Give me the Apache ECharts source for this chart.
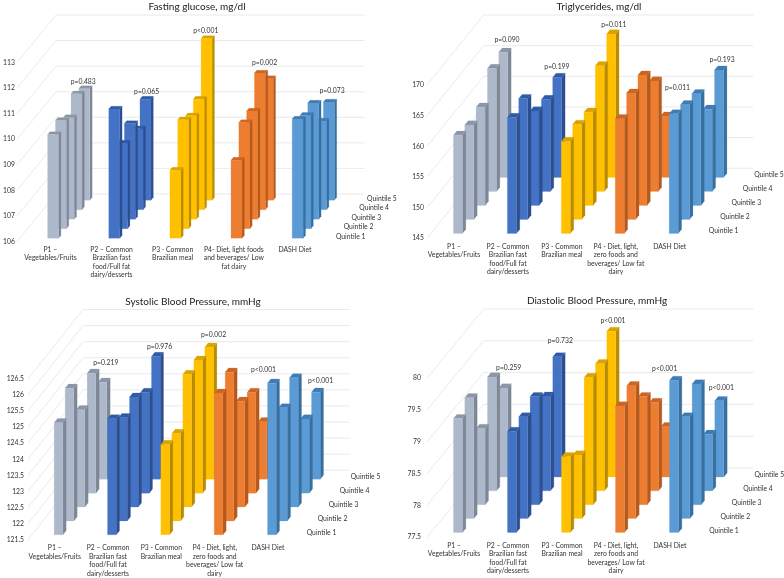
<!DOCTYPE html>
<html><head><meta charset="utf-8">
<style>html,body{margin:0;padding:0;background:#fff}#c{width:784px;height:578px}</style>
<script src="https://cdn.jsdelivr.net/npm/echarts@6/dist/echarts.min.js"></script>
</head><body><div id="c"></div>
<script>
// ---- data (rows: dietary pattern; columns: Quintile 1..5) ----
const quintiles = ['Quintile 1','Quintile 2','Quintile 3','Quintile 4','Quintile 5'];
const categoriesGlucose = ['P1 –\nVegetables/Fruits','P2 – Common\nBrazilian fast\nfood/Full fat\ndairy/desserts','P3 - Common\nBrazilian meal','P4- Diet, light foods\nand beverages/ Low\nfat dairy','DASH Diet'];
const categoriesOther = ['P1 –\nVegetables/Fruits','P2 – Common\nBrazilian fast\nfood/Full fat\ndairy/desserts','P3 - Common\nBrazilian meal','P4 - Diet, light,\nzero foods and\nbeverages/ Low fat\ndairy','DASH Diet'];
const glucose = [
 [110.05,110.23,109.97,110.53,110.36],
 [111.05,109.35,109.74,109.16,109.95],
 [108.66,110.26,110.04,110.32,112.32],
 [109.05,110.15,110.23,111.34,110.75],
 [110.66,110.43,110.54,109.46,109.84]];
const triglycerides = [
 [161.0,160.4,161.0,165.05,165.4],
 [163.9,164.7,160.4,160.0,161.3],
 [160.0,160.5,160.2,165.5,168.4],
 [163.7,165.6,166.25,163.0,155.0],
 [164.5,163.7,163.2,158.4,162.5]];
const systolic = [
 [124.99,125.63,124.53,125.23,124.52],
 [125.11,124.71,124.92,124.63,125.32],
 [124.31,124.22,125.63,125.64,125.61],
 [125.91,126.13,124.79,124.63,123.29],
 [126.22,125.02,125.52,123.81,124.21]];
const diastolic = [
 [79.29,79.40,78.70,79.29,78.90],
 [79.09,79.10,79.20,78.99,79.39],
 [78.69,78.50,79.50,79.50,79.79],
 [79.49,79.59,79.20,78.89,78.29],
 [79.89,79.10,79.40,78.39,78.70]];
const pGlucose = ['p=0.483','p=0.065','p<0.001','p=0.002','p=0.073'];
const pTriglycerides = ['p=0.090','p=0.199','p=0.011','p=0.011','p=0.193'];
const pSystolic = ['p=0.219','p=0.976','p=0.002','p<0.001','p<0.001'];
const pDiastolic = ['p=0.259','p=0.732','p<0.001','p<0.001','p<0.001'];

// ---- styling and layout ----
const faces = [
 {front:'#adb9ca',side:'#7d8796',top:'#8b97a8'},
 {front:'#4472c4',side:'#2c4f8f',top:'#2f5aa6'},
 {front:'#ffc000',side:'#b98c00',top:'#d9a300'},
 {front:'#ed7d31',side:'#b55a1e',top:'#cc6524'},
 {front:'#5b9bd5',side:'#376f9f',top:'#3e7cb5'}];
const FONT='Lato, "Open Sans", sans-serif', TXT='#333', WALL='#e4e4e4', SMALL=6.8;
const panels = [
 {title:'Fasting glucose, mg/dl',tx:197,ty:2,left:17,top:62.5,w:308.5,h:179,min:106,max:113,step:1,dx:7.8,dy:9.5,bw:11,m:5,
  cats:categoriesGlucose,vals:glucose,ps:pGlucose,nudge:[[-2.3,-4.3],[0,-4.3],[-2,-4.7],[-4.3,-13.3],[2,-8.7]]},
 {title:'Triglycerides, mg/dl',tx:599,ty:2,left:427,top:85,w:269.7,h:153.3,min:145,max:170,step:5,dx:11.33,dy:14,bw:9,m:3,
  cats:categoriesOther,vals:triglycerides,ps:pTriglycerides,nudge:[[2,-8.3],[-2,-6.7],[1,-5.3],[10.7,-24],[1.3,-5.7]]},
 {title:'Systolic Blood Pressure, mmHg',tx:193,ty:297,left:28,top:379,w:266.7,h:160.7,min:121.5,max:126.5,step:0.5,dx:11,dy:13.9,bw:8.7,m:4,
  cats:categoriesOther,vals:systolic,ps:pSystolic,nudge:[[1.7,-14.7],[2,-5.7],[2.7,-7.7],[-0.7,-48],[3,-7]]},
 {title:'Diastolic Blood Pressure, mmHg',tx:597,ty:296,left:427,top:378.3,w:270,h:159,min:77.5,max:80,step:0.5,dx:11.33,dy:13.86,bw:9,m:6,
  cats:categoriesOther,vals:diastolic,ps:pDiastolic,nudge:[[3.7,-16.3],[1.3,-12],[0,-6.3],[-2.3,-53.7],[0.3,-9]]}];
const SLOTS=5, GAP=0.35, DEPTH=0.3;

function poly(pts,fill){return {type:'polygon',shape:{points:pts},style:{fill:fill,stroke:fill,lineWidth:0.2}};}
function tickList(p){const n=Math.round((p.max-p.min)/p.step),a=[];for(let i=0;i<=n;i++)a.push(+(p.min+i*p.step).toFixed(3));return a;}

const grid=[],xAxis=[],yAxis=[],series=[],title=[];
panels.forEach((p,i)=>{
 title.push({text:p.title,left:p.tx,top:p.ty,padding:0,textAlign:'center',textStyle:{fontFamily:FONT,fontSize:10,fontWeight:'normal',color:'#222'}});
 grid.push({left:p.left,top:p.top,width:p.w,height:p.h});
 xAxis.push({type:'category',gridIndex:i,data:p.cats,axisLine:{show:false},axisTick:{show:false},splitLine:{show:false},
  axisLabel:{interval:0,margin:4,fontFamily:FONT,fontSize:SMALL,lineHeight:8.5,color:TXT,verticalAlign:'top'}});
 yAxis.push({type:'value',gridIndex:i,min:p.min,max:p.max,interval:p.step,axisLine:{show:false},axisTick:{show:false},splitLine:{show:false},
  axisLabel:{margin:p.m,fontFamily:FONT,fontSize:SMALL,color:TXT,formatter:v=>String(+v.toFixed(3))}});
 const base={type:'custom',xAxisIndex:i,yAxisIndex:i,silent:true,animation:false};
 series.push(Object.assign({},base,{z:1,data:tickList(p).map(t=>[0,t]),
  renderItem:(ctx,api)=>{
   const t=api.value(1),a=api.coord([0,t]),x0=p.left,x1=p.left+p.w;
   const bx=p.dx*SLOTS,by=p.dy*SLOTS;
   return {type:'group',children:[
    {type:'line',shape:{x1:x0,y1:a[1],x2:x0+bx,y2:a[1]-by},style:{stroke:WALL,lineWidth:0.8}},
    {type:'line',shape:{x1:x0+bx,y1:a[1]-by,x2:x1+bx,y2:a[1]-by},style:{stroke:WALL,lineWidth:0.8}}]};
  }}));
 const rows=[];
 for(let q=SLOTS-1;q>=0;q--)p.vals.forEach((r,c)=>rows.push([c,q,r[q]]));
 series.push(Object.assign({},base,{z:2,data:rows,encode:{x:0,y:2},
  renderItem:(ctx,api)=>{
   const c=api.value(0),q=api.value(1),v=api.value(2),f=faces[c];
   const top=api.coord([c,v]),bot=api.coord([c,p.min]);
   const ox=(q+GAP)*p.dx,oy=-(q+GAP)*p.dy,sx=DEPTH*p.dx,sy=-DEPTH*p.dy;
   const l=top[0]-p.bw/2+ox,r=l+p.bw,t=top[1]+oy,b=bot[1]+oy;
   return {type:'group',children:[
    poly([[r,t],[r+sx,t+sy],[r+sx,b+sy],[r,b]],f.side),
    poly([[l,t],[l+sx,t+sy],[r+sx,t+sy],[r,t]],f.top),
    poly([[l,t],[r,t],[r,b],[l,b]],f.front)]};
  }}));
 series.push(Object.assign({},base,{z:3,data:quintiles.map((n,q)=>[4,q]),
  renderItem:(ctx,api)=>{
   const q=api.value(1),a=api.coord([0,p.min]);
   return {type:'text',style:{text:quintiles[q],x:p.left+p.w+6.5+(q+0.5)*p.dx,y:a[1]-(q+0.5)*p.dy,
    font:SMALL+'px '+FONT,fill:TXT,textAlign:'left',textVerticalAlign:'middle'}};
  }}));
 series.push(Object.assign({},base,{z:4,data:p.ps.map((s,c)=>[c,p.vals[c][4]]),
  renderItem:(ctx,api)=>{
   const c=api.value(0),a=api.coord([c,api.value(1)]),n=p.nudge[c];
   const x=a[0]-p.bw/2+(SLOTS-1+GAP)*p.dx+(p.bw+DEPTH*p.dx)/2+n[0];
   const y=a[1]-(SLOTS-1+GAP+DEPTH)*p.dy+n[1];
   return {type:'text',style:{text:p.ps[c],x:x,y:y,font:SMALL+'px '+FONT,fill:TXT,textAlign:'center',textVerticalAlign:'middle'}};
  }}));
});
const chart=echarts.init(document.getElementById('c'),null,{renderer:'canvas'});
chart.setOption({animation:false,backgroundColor:'#fff',title,grid,xAxis,yAxis,series});
</script></body></html>
